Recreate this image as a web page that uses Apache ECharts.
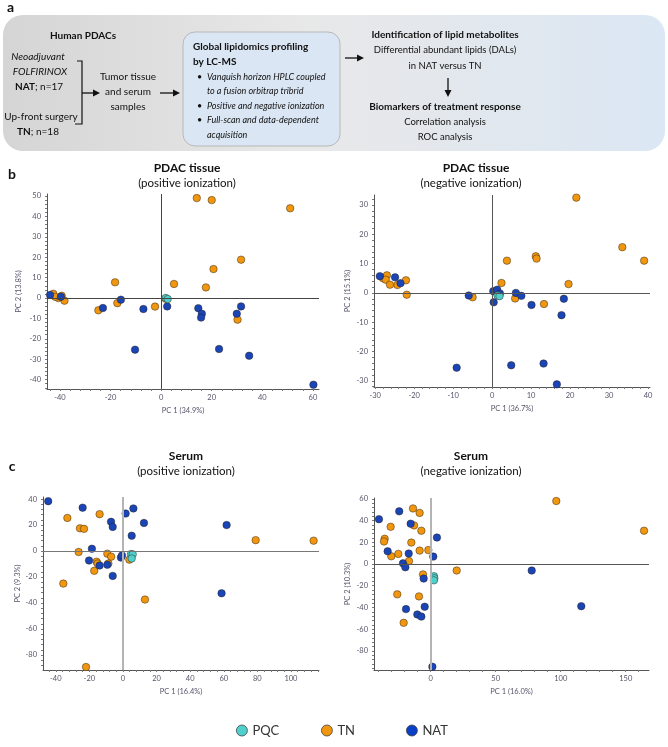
<!DOCTYPE html>
<html>
<head>
<meta charset="utf-8">
<script src="https://cdn.jsdelivr.net/npm/echarts@6/dist/echarts.min.js"></script>
<style>
html, body { margin: 0; padding: 0; background: #fff; }
#chart { width: 668px; height: 747px; }
</style>
</head>
<body>
<div id="chart"></div>
<script>
// PCA scores, [PC1, PC2] per sample
const tissPosTN = [[14.1,49.0],[20.0,48.0],[51.0,44.0],[31.6,18.8],[20.7,14.2],[-18.2,7.7],[5.1,6.9],[17.7,5.2],
  [-42.6,2.1],[-39.3,1.1],[-38.2,-1.3],[-40.6,0],[-41.9,0.6],[-24.8,-6.0],[-17.3,-2.5],[-2.4,-4.2],[30.2,-10.6],[1.8,-0.3]];
const tissPosNAT = [[-43.9,1.5],[-39.6,0.6],[-23.0,-4.9],[-15.9,-0.8],[-7.0,-5.4],[2.4,-4.1],[14.7,-5.0],[16.1,-7.7],
  [15.8,-9.6],[31.6,-4.1],[29.9,-7.7],[-10.3,-25.3],[22.9,-25.0],[34.8,-28.3],[60.2,-42.5]];
const tissPosPQC = [[1.8,0],[2.6,-0.5]];

const tissNegTN = [[21.6,32.5],[33.4,15.6],[39.0,11.0],[3.8,11.0],[11.2,12.5],[11.4,11.7],[2.4,3.4],[19.6,3.0],
  [-28.0,5.0],[-27.0,6.0],[-27.3,4.5],[-26.2,2.8],[-24.3,2.7],[-22.1,4.3],[-21.9,-0.6],[-5.0,-1.5],[5.9,-1.9],[13.3,-3.8]];
const tissNegNAT = [[-28.8,5.7],[-24.9,5.3],[-23.5,3.3],[-6.0,-0.9],[0.3,0.6],[1.3,1.1],[2.0,-0.2],[0.4,-3.2],
  [6.1,0],[7.5,-1.0],[10.1,-4.1],[18.4,-2.0],[17.8,-7.6],[-9.1,-25.5],[4.9,-24.7],[13.2,-24.1],[16.6,-31.2]];
const tissNegPQC = [[1.4,-0.9],[1.9,-1.1]];

const serPosTN = [[-33.1,25.5],[-25.6,17.5],[-23.2,17.1],[-13.9,28.4],[79.0,8.4],[113.5,8.0],[-26.4,-0.7],[-9.3,-2.0],
  [-7.0,-4.3],[-15.7,-8.2],[-15.1,-9.6],[-8.7,-9.6],[-17.1,-15.2],[-35.5,-25.0],[3.8,-6.6],[13.1,-37.3],[-22.0,-89.2]];
const serPosNAT = [[-44.5,38.4],[-24.0,33.4],[6.2,32.8],[1.6,28.9],[-7.1,22.5],[-6.1,18.6],[12.5,21.6],[5.2,11.8],
  [61.7,20.0],[-18.5,1.8],[-20.2,-7.3],[-13.9,-11.1],[-9.3,-10.5],[-6.1,-19.1],[-1.2,-5.0],[-0.6,-3.4],[58.7,-32.5]];
const serPosPQC = [[4.8,-2.3],[5.8,-2.5],[5.2,-5.7]];

const serNegTN = [[96.6,57.9],[164.1,30.6],[-13.6,51.1],[-8.5,47.0],[-30.8,34.2],[-12.8,35.5],[-7.2,30.6],[-35.4,23.2],
  [-35.9,20.7],[-14.9,19.7],[-30.3,7.1],[-24.9,9.3],[-8.5,12.3],[-1.8,12.8],[-16.7,2.7],[20.0,-6.0],[-5.9,-9.6],
  [-25.7,-27.9],[-9.0,-29.8],[-20.8,-54.1]];
const serNegNAT = [[-39.8,41.2],[-24.2,48.4],[-15.4,37.1],[4.8,24.3],[-33.1,11.7],[-16.9,9.6],[2.0,6.8],[-21.3,0.6],
  [-19.5,-3.0],[-5.4,-13.4],[77.7,-6.0],[-19.0,-41.5],[-4.6,-39.3],[-10.3,-46.4],[-7.2,-48.4],[115.8,-38.8],[1.3,-94.5]];
const serNegPQC = [[2.5,-11.2],[2.8,-13.1],[2.5,-15.0]];

// tick labels
const tpXTicks = [-40,-20,0,20,40,60];
const tpYTicks = [-40,-30,-20,-10,0,10,20,30,40,50];
const tnXTicks = [-30,-20,-10,0,10,20,30,40];
const tnYTicks = [-30,-20,-10,0,10,20,30];
const spXTicks = [-40,-20,0,20,40,60,80,100];
const spYTicks = [-80,-60,-40,-20,0,20,40];
const snXTicks = [0,50,100,150];
const snYTicks = [-80,-60,-40,-20,0,20,40,60];

const F = 'Lato, "Open Sans", sans-serif';
const AX = '#55556a';
const C_TN = '#f0960f', C_NAT = '#1a45b6', C_PQC = '#4fd0cc';

function minorTicks(min, max, step) {
  let out = [];
  for (let v = Math.ceil(min / step) * step; v <= max + 1e-9; v += step) out.push(+v.toFixed(6));
  return out;
}

function xAxisCfg(gi, min, max, ticks, step, name) {
  return {
    type: 'value', gridIndex: gi, min: min, max: max,
    name: name, nameLocation: 'middle', nameGap: 18,
    nameTextStyle: { fontSize: 7.5, color: AX, fontFamily: F },
    splitLine: { show: false },
    axisLine: { onZero: false, lineStyle: { color: '#555', width: 1 } },
    axisTick: { customValues: minorTicks(min, max, step), length: 2, lineStyle: { color: '#777' } },
    axisLabel: { customValues: ticks, fontSize: 7.5, color: AX, margin: 5, fontFamily: F }
  };
}
function yAxisCfg(gi, min, max, ticks, step, name, gap) {
  return {
    type: 'value', gridIndex: gi, min: min, max: max,
    name: name, nameLocation: 'middle', nameGap: gap, nameRotate: 90,
    nameTextStyle: { fontSize: 7.5, color: AX, fontFamily: F },
    splitLine: { show: false },
    axisLine: { onZero: false, lineStyle: { color: '#555', width: 1 } },
    axisTick: { customValues: minorTicks(min, max, step), length: 2, lineStyle: { color: '#777' } },
    axisLabel: { customValues: ticks, fontSize: 7.5, color: AX, margin: 6, fontFamily: F }
  };
}

function zeroLines(gi, vColor, vWidth, hColor, hWidth) {
  return {
    name: 'zero', type: 'scatter', xAxisIndex: gi, yAxisIndex: gi, data: [], silent: true, z: 1,
    markLine: {
      silent: true, symbol: ['none', 'none'], label: { show: false }, animation: false,
      data: [
        { xAxis: 0, lineStyle: { color: vColor, width: vWidth, type: 'solid' } },
        { yAxis: 0, lineStyle: { color: hColor, width: hWidth, type: 'solid' } }
      ]
    }
  };
}

function pts(gi, name, data, color) {
  return {
    name: name, type: 'scatter', xAxisIndex: gi, yAxisIndex: gi, data: data,
    symbol: 'circle', symbolSize: 7.5, z: 3,
    itemStyle: { color: color, borderColor: 'rgba(40,30,20,0.75)', borderWidth: 0.6, opacity: 1 }
  };
}

// panel a drawing helpers
function txt(x, y, text, font, align, extra) {
  return { type: 'text', x: x, y: y, silent: true,
    style: Object.assign({ text: text, font: font, fill: '#111', align: align || 'center', verticalAlign: 'middle' }, extra || {}) };
}
function arrowRight(x1, x2, y) {
  return [
    { type: 'line', silent: true, shape: { x1: x1, y1: y, x2: x2 - 5, y2: y }, style: { stroke: '#111', lineWidth: 1.3 } },
    { type: 'polygon', silent: true, shape: { points: [[x2, y], [x2 - 7, y - 3.5], [x2 - 7, y + 3.5]] }, style: { fill: '#111' } }
  ];
}
function arrowDown(x, y1, y2) {
  return [
    { type: 'line', silent: true, shape: { x1: x, y1: y1, x2: x, y2: y2 - 5 }, style: { stroke: '#111', lineWidth: 1.3 } },
    { type: 'polygon', silent: true, shape: { points: [[x, y2], [x - 3.5, y2 - 7], [x + 3.5, y2 - 7]] }, style: { fill: '#111' } }
  ];
}

const fR = '9.5px ' + F, fI = 'italic 9px ' + F;

let graphics = [
  { type: 'rect', silent: true, z: -10, shape: { x: 3, y: 15, width: 662, height: 136, r: 20 },
    style: { fill: new echarts.graphic.LinearGradient(0, 0, 1, 0, [
      { offset: 0, color: '#d5d5d5' }, { offset: 0.45, color: '#e8e8e8' }, { offset: 1, color: '#dbe7f4' }]) } },
  { type: 'rect', silent: true, shape: { x: 183, y: 32, width: 157, height: 114, r: 12 },
    style: { fill: '#dae6f3', stroke: '#b8b8b8', lineWidth: 1 } },
  txt(7, 7, 'a', 'bold 14px ' + F, 'left'),
  txt(83, 36, 'Human PDACs', 'bold 10px ' + F),
  txt(38, 57, 'Neoadjuvant', 'italic 10px ' + F),
  txt(40, 72, 'FOLFIRINOX', 'italic 10px ' + F),
  txt(39, 87, '{b|NAT}; n=17', '10px ' + F, 'center', { rich: { b: { font: 'bold 10px ' + F, fill: '#111' } } }),
  txt(41, 117, 'Up-front surgery', '10px ' + F),
  txt(38, 132, '{b|TN}; n=18', '10px ' + F, 'center', { rich: { b: { font: 'bold 10px ' + F, fill: '#111' } } }),
  { type: 'polyline', silent: true, shape: { points: [[77, 61], [82, 61], [82, 124], [75, 124]] },
    style: { stroke: '#111', lineWidth: 1.2, fill: null } },
  txt(128, 77, 'Tumor tissue', '10px ' + F),
  txt(128, 92, 'and serum', '10px ' + F),
  txt(128, 107, 'samples', '10px ' + F),
  txt(193, 47, 'Global lipidomics profiling', 'bold 10px ' + F, 'left'),
  txt(193, 62, 'by LC-MS', 'bold 10px ' + F, 'left'),
  txt(197, 77, '•', '9px ' + F, 'left'), txt(207, 77, 'Vanquish horizon HPLC coupled', fI, 'left'),
  txt(207, 91, 'to a fusion orbitrap tribrid', fI, 'left'),
  txt(197, 106, '•', '9px ' + F, 'left'), txt(207, 106, 'Positive and negative ionization', fI, 'left'),
  txt(197, 120, '•', '9px ' + F, 'left'), txt(207, 120, 'Full-scan and data-dependent', fI, 'left'),
  txt(207, 135, 'acquisition', fI, 'left'),
  txt(445, 35, 'Identification of lipid metabolites', 'bold 10px ' + F),
  txt(445, 50, 'Differential abundant lipids (DALs)', fR),
  txt(445, 66, 'in NAT versus TN', fR),
  txt(445, 107, 'Biomarkers of treatment response', 'bold 10px ' + F),
  txt(445, 122, 'Correlation analysis', fR),
  txt(445, 137, 'ROC analysis', fR),
  // panel labels and plot titles
  txt(12, 174, 'b', 'bold 14px ' + F),
  txt(12, 466, 'c', 'bold 14px ' + F),
  txt(187, 168, 'PDAC tissue', 'bold 12px ' + F),
  txt(187, 183, '(positive ionization)', '11.5px ' + F),
  txt(476, 168, 'PDAC tissue', 'bold 12px ' + F),
  txt(471, 183, '(negative ionization)', '11.5px ' + F),
  txt(186, 456, 'Serum', 'bold 12px ' + F),
  txt(186, 471, '(positive ionization)', '11.5px ' + F),
  txt(471, 456, 'Serum', 'bold 12px ' + F),
  txt(471, 471, '(negative ionization)', '11.5px ' + F)
];
graphics = graphics.concat(arrowRight(82, 100, 93), arrowRight(160, 180, 93), arrowRight(345, 364, 58), arrowDown(448, 78, 97));

const chart = echarts.init(document.getElementById('chart'), null, { renderer: 'canvas' });

const legendItem = (name, color, left) => ({
  data: [{ name: name, itemStyle: { color: color, borderColor: '#444', borderWidth: 0.8 } }],
  icon: 'circle', itemWidth: 11, itemHeight: 11, left: left, top: 719, itemGap: 5,
  textStyle: { fontSize: 13, color: '#333', fontFamily: F }, selectedMode: false
});

chart.setOption({
  animation: false,
  backgroundColor: '#fff',
  grid: [
    { left: 47, top: 194, width: 272, height: 195 },
    { left: 374, top: 195, width: 276, height: 192 },
    { left: 43, top: 497, width: 276, height: 173 },
    { left: 374, top: 498, width: 275, height: 172 }
  ],
  xAxis: [
    xAxisCfg(0, -45.1, 62.4, tpXTicks, 4, 'PC 1 (34.9%)'),
    xAxisCfg(1, -30.3, 40.5, tnXTicks, 2, 'PC 1 (36.7%)'),
    xAxisCfg(2, -47.6, 116.7, spXTicks, 4, 'PC 1 (16.4%)'),
    xAxisCfg(3, -43.6, 167.9, snXTicks, 10, 'PC 1 (16.0%)')
  ],
  yAxis: [
    yAxisCfg(0, -44.6, 51, tpYTicks, 2, 'PC 2 (13.8%)', 24),
    yAxisCfg(1, -32.1, 33.4, tnYTicks, 2, 'PC 2 (15.1%)', 22),
    yAxisCfg(2, -91.5, 41.6, spYTicks, 4, 'PC 2 (9.3%)', 21),
    yAxisCfg(3, -97.5, 60.7, snYTicks, 4, 'PC 2 (10.3%)', 22)
  ],
  legend: [
    legendItem('PQC', C_PQC, 231),
    legendItem('TN', C_TN, 316),
    legendItem('NAT', '#0a3fc8', 401)
  ],
  graphic: graphics,
  series: [
    zeroLines(0, '#444', 1, '#444', 1),
    zeroLines(1, '#555', 1, '#555', 1),
    zeroLines(2, '#b4b4b4', 2, '#777', 1),
    zeroLines(3, '#b4b4b4', 2, '#555', 1),
    pts(0, 'TN', tissPosTN, C_TN), pts(0, 'NAT', tissPosNAT, C_NAT), pts(0, 'PQC', tissPosPQC, C_PQC),
    pts(1, 'TN', tissNegTN, C_TN), pts(1, 'NAT', tissNegNAT, C_NAT), pts(1, 'PQC', tissNegPQC, C_PQC),
    pts(2, 'TN', serPosTN, C_TN), pts(2, 'NAT', serPosNAT, C_NAT), pts(2, 'PQC', serPosPQC, C_PQC),
    pts(3, 'TN', serNegTN, C_TN), pts(3, 'NAT', serNegNAT, C_NAT), pts(3, 'PQC', serNegPQC, C_PQC)
  ]
});
</script>
</body>
</html>
